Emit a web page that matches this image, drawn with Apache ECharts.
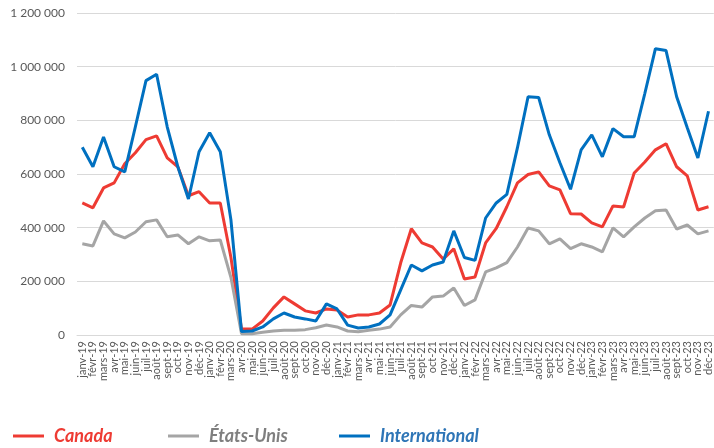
<!DOCTYPE html>
<html>
<head>
<meta charset="utf-8">
<script src="https://cdn.jsdelivr.net/npm/echarts@6/dist/echarts.min.js"></script>
<style>
  html, body { margin: 0; padding: 0; background: #fff; }
  #chart { width: 714px; height: 448px; }
</style>
</head>
<body>
<div id="chart"></div>
<script>
// Monthly categories, janv-19 .. déc-23
const months = ['janv', 'févr', 'mars', 'avr', 'mai', 'juin', 'juil', 'août', 'sept', 'oct', 'nov', 'déc'];
const years = ['19', '20', '21', '22', '23'];
const categories = [];
years.forEach(y => months.forEach(m => categories.push(m + '-' + y)));

const canada = [
  492000, 474000, 548000, 567000, 638000, 679000, 728000, 742000, 660000, 627000, 519000, 534000,
  492000, 492000, 290000, 22000, 22000, 52000, 101000, 142000, 116000, 90000, 82000, 97000,
  93000, 67000, 75000, 75000, 82000, 112000, 269000, 396000, 343000, 328000, 283000, 321000,
  209000, 216000, 343000, 397000, 478000, 567000, 598000, 608000, 556000, 541000, 452000, 451000,
  418000, 403000, 481000, 477000, 604000, 645000, 690000, 713000, 627000, 593000, 466000, 478000
];

const etatsUnis = [
  340000, 332000, 425000, 377000, 362000, 384000, 422000, 429000, 366000, 373000, 340000, 366000,
  351000, 354000, 215000, 5000, 5000, 10000, 15000, 18000, 18000, 20000, 27000, 37000,
  30000, 15000, 12000, 18000, 22000, 30000, 75000, 110000, 104000, 142000, 145000, 175000,
  110000, 131000, 235000, 250000, 270000, 328000, 399000, 388000, 340000, 358000, 322000, 340000,
  328000, 310000, 399000, 366000, 403000, 436000, 463000, 466000, 395000, 410000, 377000, 388000
];

const international = [
  700000, 627000, 738000, 627000, 608000, 776000, 948000, 972000, 776000, 627000, 507000, 683000,
  754000, 683000, 430000, 13000, 15000, 30000, 60000, 82000, 67000, 60000, 52000, 116000,
  97000, 37000, 26000, 30000, 41000, 75000, 168000, 261000, 239000, 261000, 272000, 388000,
  289000, 278000, 436000, 492000, 524000, 698000, 888000, 885000, 746000, 642000, 543000, 690000,
  746000, 664000, 769000, 739000, 739000, 900000, 1067000, 1060000, 888000, 772000, 660000, 834000
];

const yTicks = { min: 0, max: 1200000, interval: 200000 };

const COLORS = { canada: '#EE3B33', us: '#A5A5A5', intl: '#0070C0' };

function fmt(v) {
  return String(v).replace(/\B(?=(\d{3})+(?!\d))/g, ' ');
}

function legendAt(left, name, color) {
  return {
    left: left,
    top: 422,
    icon: 'rect',
    itemWidth: 31,
    itemHeight: 3,
    data: [name],
    textStyle: {
      color: color,
      fontFamily: 'Lato',
      fontStyle: 'italic',
      fontWeight: 'bold',
      fontSize: 18,
      padding: [0, 0, 0, 5]
    }
  };
}

const chart = echarts.init(document.getElementById('chart'), null, { renderer: 'canvas' });

chart.setOption({
  animation: false,
  backgroundColor: '#ffffff',
  grid: { left: 77, right: 0, top: 13, bottom: 113, containLabel: false },
  legend: [
    legendAt(8, 'Canada', '#EE3B33'),
    legendAt(163, 'États-Unis', '#7F7F7F'),
    legendAt(334, 'International', '#2E75B6')
  ],
  xAxis: {
    type: 'category',
    data: categories,
    boundaryGap: true,
    axisLine: { show: true, lineStyle: { color: '#D9D9D9', width: 1 } },
    axisTick: { show: false },
    axisLabel: {
      interval: 0,
      rotate: 90,
      color: '#595959',
      fontFamily: 'Lato',
      fontSize: 11,
      margin: 6
    }
  },
  yAxis: {
    type: 'value',
    min: yTicks.min,
    max: yTicks.max,
    interval: yTicks.interval,
    axisLine: { show: false },
    axisTick: { show: false },
    splitLine: { lineStyle: { color: '#D9D9D9', width: 1 } },
    axisLabel: {
      color: '#595959',
      fontFamily: 'Lato',
      fontSize: 12,
      margin: 12,
      formatter: fmt
    }
  },
  series: [
    {
      name: 'Canada', type: 'line', data: canada, showSymbol: false,
      lineStyle: { color: COLORS.canada, width: 3 }, itemStyle: { color: COLORS.canada }
    },
    {
      name: 'États-Unis', type: 'line', data: etatsUnis, showSymbol: false,
      lineStyle: { color: COLORS.us, width: 3 }, itemStyle: { color: COLORS.us }
    },
    {
      name: 'International', type: 'line', data: international, showSymbol: false,
      lineStyle: { color: COLORS.intl, width: 3 }, itemStyle: { color: COLORS.intl }
    }
  ]
});
</script>
</body>
</html>
